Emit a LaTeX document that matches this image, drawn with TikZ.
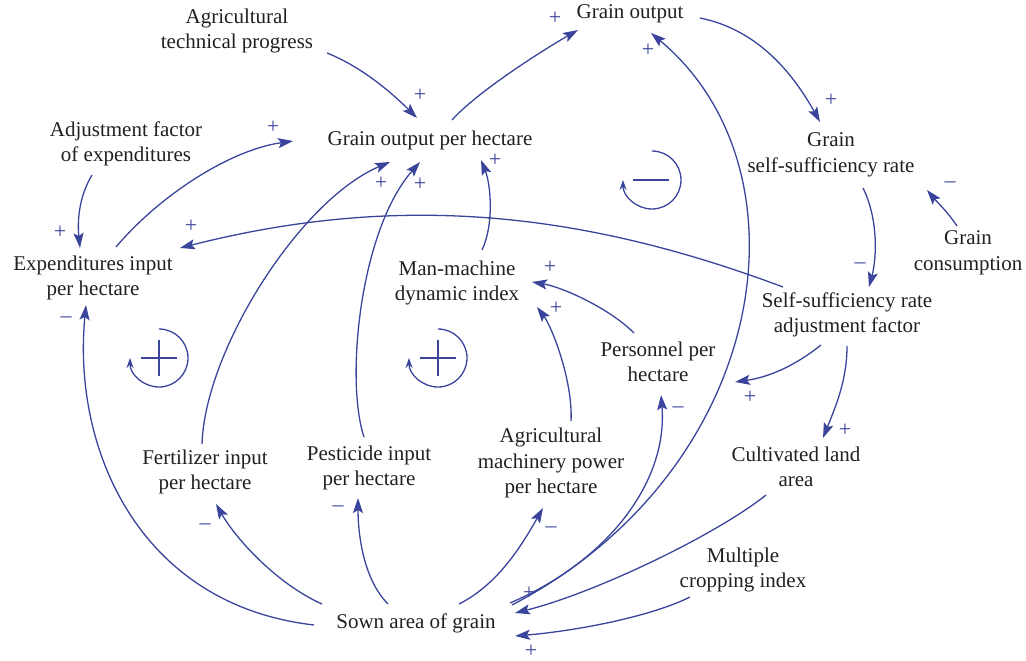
\documentclass[tikz,border=0pt]{standalone}
\usepackage{fontspec}
\setmainfont{Liberation Serif}
\usepackage{tikz}
\usetikzlibrary{arrows.meta,calc}
\definecolor{cldblue}{RGB}{58,68,155}
\definecolor{cldtext}{RGB}{35,31,32}

\begin{document}
\begin{tikzpicture}[x=1pt,y=-1pt]
\tikzset{factor/.style = {text=cldtext, align=center, inner sep=0pt, font=\fontsize{21}{25.5}\selectfont}}
\tikzset{edge/.style = {draw=cldblue, line width=1.3pt, -{Stealth[length=15pt,width=10pt,inset=3pt]}}}
\tikzset{sign/.style = {text=cldblue, inner sep=0pt, font=\fontsize{22}{22}\selectfont}}
\tikzset{loopline/.style = {draw=cldblue, line width=1.3pt}}
\useasboundingbox (0,0) rectangle (1026,661);
% factors
\node[factor] (atp) at (237,31) {Agricultural\\technical progress};
\node[factor] (go) at (630,14) {Grain output};
\node[factor] (goph) at (430,140) {Grain output per hectare};
\node[factor] (afe) at (126,144) {Adjustment factor\\of expenditures};
\node[factor] (gssr) at (831,155) {Grain\\self-sufficiency rate};
\node[factor] (gc) at (968,253) {Grain\\consumption};
\node[factor] (eiph) at (93,278) {Expenditures input\\per hectare};
\node[factor] (mmdi) at (457,283) {Man-machine\\dynamic index};
\node[factor] (ssraf) at (847,315) {Self-sufficiency rate\\adjustment factor};
\node[factor] (pph) at (658,362) {Personnel per\\hectare};
\node[factor] (fiph) at (205,472) {Fertilizer input\\per hectare};
\node[factor] (piph) at (369,468) {Pesticide input\\per hectare};
\node[factor] (ampph) at (551,463) {Agricultural\\machinery power\\per hectare};
\node[factor] (cla) at (796,467) {Cultivated land\\area};
\node[factor] (mci) at (743,570) {Multiple\\cropping index};
\node[factor] (sag) at (416,623) {Sown area of grain};

% edges
\draw[edge] ($(atp)+(90,22)$) .. controls +(35,14) and +(-25,-25) .. ($(goph)+(-13,-22)$) node[sign] at (420,95) {+};
\draw[edge] ($(goph)+(22,-20)$) .. controls +(25,-28) and +(-35,20) .. ($(go)+(-52,16)$) node[sign] at (555,18) {+};
\draw[edge] ($(go)+(70,4)$) .. controls +(60,12) and +(-25,-45) .. ($(gssr)+(-11,-33)$) node[sign] at (831,100) {+};
\draw[edge] ($(gssr)+(32,33)$) .. controls +(15,30) and +(8,-30) .. ($(ssraf)+(22,-28)$) node[sign] at (860,266) {\textendash};
\draw[edge] ($(gc)+(-11,-27)$) .. controls +(-10,-15) and +(10,12) .. ($(gssr)+(96,35)$) node[sign] at (950,185) {\textendash};
\draw[edge] ($(ssraf)+(-64,-28)$) .. controls +(-200,-75) and +(220,-56) .. ($(eiph)+(87,-30)$) node[sign] at (191,226) {+};
\draw[edge] ($(ssraf)+(-26,30)$) .. controls +(-25,20) and +(35,-5) .. ($(pph)+(77,20)$) node[sign] at (750,397) {+};
\draw[edge] ($(ssraf)+(0,31)$) .. controls +(0,35) and +(12,-30) .. ($(cla)+(27,-29)$) node[sign] at (845,430) {+};
\draw[edge] ($(cla)+(-30,28)$) .. controls +(-50,40) and +(80,-20) .. ($(sag)+(99,-10)$) node[sign] at (529,593) {+};
\draw[edge] ($(mci)+(-53,27)$) .. controls +(-40,20) and +(60,-5) .. ($(sag)+(99,13)$) node[sign] at (531,651) {+};
\draw[edge] ($(sag)+(96,-18)$) .. controls +(258,-135) and +(164,137) .. ($(go)+(21,19)$) node[sign] at (648,50) {+};
\draw[edge] ($(sag)+(94,-20)$) .. controls +(100,-43) and +(7,85) .. ($(pph)+(3,33)$) node[sign] at (678,410) {\textendash};
\draw[edge] ($(sag)+(43,-19)$) .. controls +(40,-20) and +(-20,35) .. ($(ampph)+(-8,45)$) node[sign] at (551,530) {\textendash};
\draw[edge] ($(sag)+(-28,-19)$) .. controls +(-25,-25) and +(0,35) .. ($(piph)+(-11,30)$) node[sign] at (338,509) {\textendash};
\draw[edge] ($(sag)+(-94,-19)$) .. controls +(-45,-20) and +(20,35) .. ($(fiph)+(11,32)$) node[sign] at (205,527) {\textendash};
\draw[edge] ($(sag)+(-102,2)$) .. controls +(-174,-20) and +(-14,145) .. ($(eiph)+(-7,27)$) node[sign] at (66,320) {\textendash};
\draw[edge] ($(afe)+(-34,31)$) .. controls +(-12,20) and +(-3,-30) .. ($(eiph)+(-13,-30)$) node[sign] at (60,232) {+};
\draw[edge] ($(eiph)+(23,-31)$) .. controls +(44,-52) and +(-63,9) .. ($(goph)+(-137,1)$) node[sign] at (273,127) {+};
\draw[edge] ($(fiph)+(-3,-28)$) .. controls +(3,-94) and +(-90,38) .. ($(goph)+(-40,22)$) node[sign] at (381,183) {+};
\draw[edge] ($(piph)+(-5,-31)$) .. controls +(-19,-57) and +(-60,68) .. ($(goph)+(-10,22)$) node[sign] at (420,184) {+};
\draw[edge] ($(mmdi)+(25,-33)$) .. controls +(12,-25) and +(10,25) .. ($(goph)+(51,20)$) node[sign] at (495,160) {+};
\draw[edge] ($(pph)+(-24,-29)$) .. controls +(-25,-25) and +(30,5) .. ($(mmdi)+(75,-1)$) node[sign] at (550,267) {+};
\draw[edge] ($(ampph)+(20,-42)$) .. controls +(2,-40) and +(15,20) .. ($(mmdi)+(80,24)$) node[sign] at (556,308) {+};

% loops
\draw[loopline, -{Stealth[length=10pt,width=7pt]}] (159,329) arc (-90:180:29);
\draw[loopline] (141,358) -- (177,358) (159,340) -- (159,376);
\draw[loopline, -{Stealth[length=10pt,width=7pt]}] (438,329) arc (-90:180:29);
\draw[loopline] (420,358) -- (456,358) (438,340) -- (438,376);
\draw[loopline, -{Stealth[length=10pt,width=7pt]}] (652,151) arc (-90:180:29);
\draw[loopline] (633,180) -- (669,180);
\end{tikzpicture}
\end{document}
